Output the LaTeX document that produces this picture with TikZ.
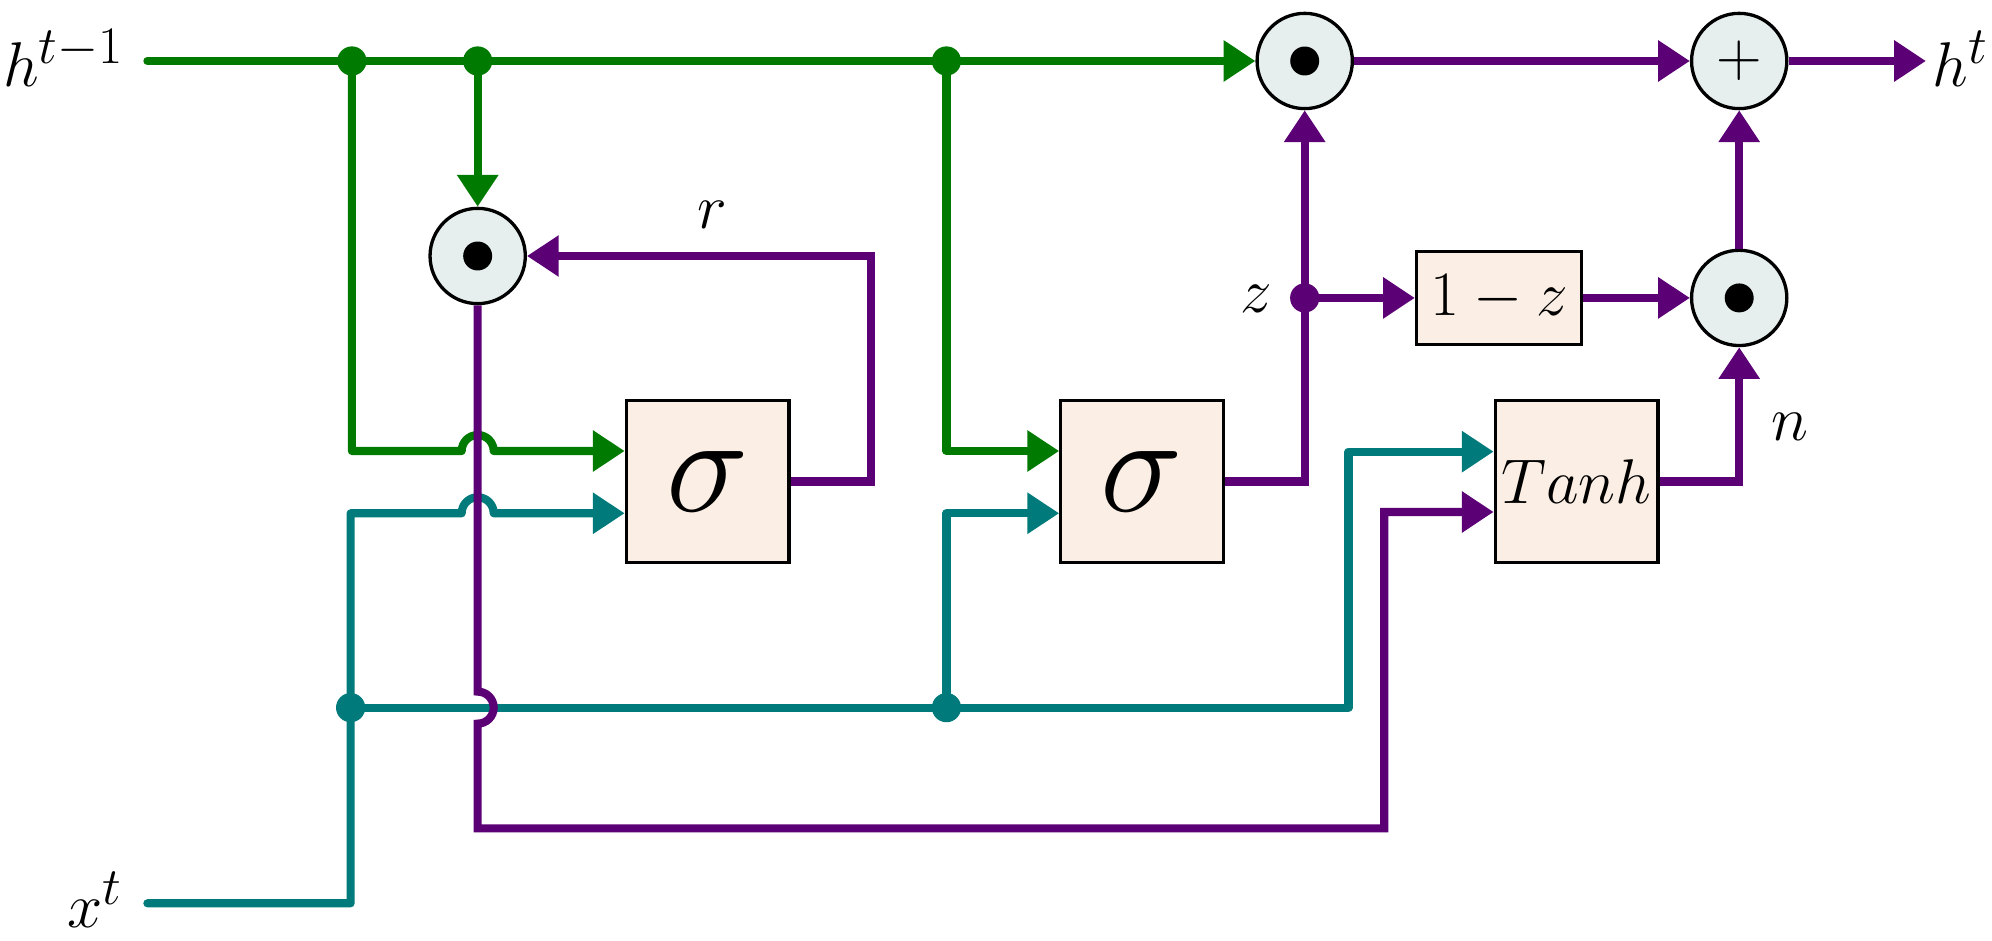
\documentclass[tikz,border=0pt]{standalone}
\usepackage{graphicx}
\usetikzlibrary{arrows.meta,calc}
\definecolor{gG}{RGB}{0,122,0}
\definecolor{gT}{RGB}{0,122,122}
\definecolor{gP}{RGB}{92,0,117}
\definecolor{cfill}{RGB}{230,238,238}
\definecolor{bfill}{RGB}{251,238,228}
\begin{document}
\begin{tikzpicture}[x=0.5pt,y=-0.5pt,
  font=\Huge,
  wire/.style={line width=3.2pt},
  gw/.style={wire,draw=gG,line join=round,line cap=round},
  tw/.style={wire,draw=gT,line join=round,line cap=round},
  pw/.style={wire,draw=gP,line join=miter},
  arr/.style={-{Triangle[length=12.5pt,width=15.5pt]}},
  jdot/.style={circle,inner sep=0pt,minimum size=11.5pt},
  op/.style={circle,draw=black,line width=1.3pt,fill=cfill,minimum size=37.5pt,inner sep=0pt},
  gate/.style={draw=black,line width=1.3pt,fill=bfill,inner sep=0pt},
  lbl/.style={inner sep=0pt}
]
\useasboundingbox (0,0) rectangle (1568,740);

% labels
\node[lbl,anchor=base east] (hin) at (98,68) {$h^{t-1}$};
\coordinate (hs) at (116,48);
\node[lbl,anchor=base east] (xin) at (97,730) {$x^{t}$};
\coordinate (xs) at (116,711);
\node[lbl,anchor=base west] (hout) at (1521,68) {$h^{t}$};
\coordinate (he) at (1516,48);
\node[lbl,anchor=base] (rl) at (561,180) {$r$};
\node[lbl,anchor=base] (zl) at (989,246) {$z$};
\node[lbl,anchor=base] (nl) at (1409,347) {$n$};

% operators
\node[op] (oA) at (376,201.5) {};
\node[op] (oT) at (1027,48) {};
\node[op] (plus) at (1369,48) {$+$};
\node[op] (oB) at (1369,234.5) {};
\fill[black] (oA.center) circle[radius=5.7pt];
\fill[black] (oT.center) circle[radius=5.7pt];
\fill[black] (oB.center) circle[radius=5.7pt];

% gates
\node[gate,minimum width=64pt,minimum height=64pt] (sA) at (557,379) {\scalebox{2.2}{$\sigma$}};
\node[gate,minimum width=64pt,minimum height=64pt] (sB) at (899,379) {\scalebox{2.2}{$\sigma$}};
\node[gate,minimum width=64pt,minimum height=64pt] (tanh) at (1241,379) {$Tanh$};
\node[gate,minimum width=65pt,minimum height=36.5pt] (onez) at (1180,234.5) {$1-z$};

% junctions
\node[jdot,fill=gG] (j1) at (277,48) {};
\node[jdot,fill=gG] (j2) at (376,48) {};
\node[jdot,fill=gG] (j3) at (745,48) {};
\node[jdot,fill=gT] (t1) at (276,557) {};
\node[jdot,fill=gT] (t2) at (745,557) {};
\node[jdot,fill=gP] (zj) at (1027,234.5) {};

% green wires
\draw[gw,arr] (hs) -- (oT);
\draw[gw,arr] (j1.center) -- (277,355) -- (363.4,355) arc[start angle=180,end angle=0,radius=6.3pt] -- ($(sA.west)+(0,-24)$);
\draw[gw,arr] (j2.center) -- (oA);
\draw[gw,arr] (j3.center) |- ($(sB.west)+(0,-24)$);

% teal wires
\draw[tw,arr] (xs) -| (t1.center) -- (276,404) -- (363.4,404) arc[start angle=180,end angle=0,radius=6.3pt] -- ($(sA.west)+(0,25)$);
\draw[tw,arr] (t1.center) -- (1061.5,557) |- ($(tanh.west)+(0,-23.5)$);
\draw[tw,arr] (t2.center) |- ($(sB.west)+(0,25)$);

% purple wires
\draw[pw,arr] (sA.east) -| (685.5,201.5) -- (oA);
\draw[pw,arr] (oA.south) -- (376,544.4) arc[start angle=90,end angle=-90,radius=6.3pt] -- (376,652) -| (1089.6,403) -- ($(tanh.west)+(0,24)$);
\draw[pw,arr] (sB.east) -| (zj.center) -- (oT);
\draw[pw,arr] (zj.center) -- (onez);
\draw[pw,arr] (onez) -- (oB);
\draw[pw,arr] (tanh.east) -| (oB);
\draw[pw,arr] (oB) -- (plus);
\draw[pw,arr] (oT) -- (plus);
\draw[pw,arr] (plus) -- (he);
\end{tikzpicture}
\end{document}
